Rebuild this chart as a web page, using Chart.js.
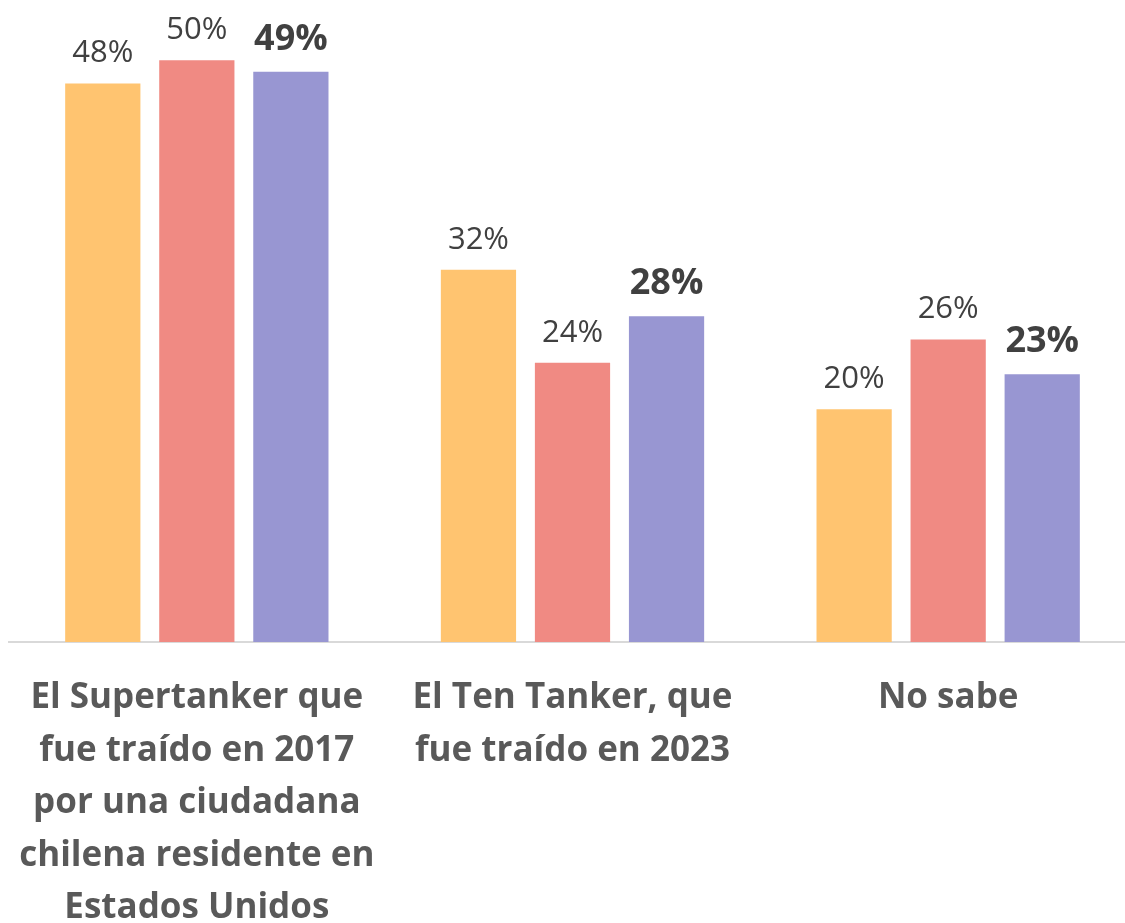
<!DOCTYPE html>
<html><head><meta charset="utf-8">
<script src="https://cdn.jsdelivr.net/npm/chart.js@4"></script>
<style>html,body{margin:0;padding:0;background:#fff;overflow:hidden;width:1125px;height:923px}#wrap{width:1136px;height:923px;position:relative}</style>
</head><body><div id="wrap"><canvas id="c" width="1136" height="923"></canvas></div>
<script>
const categories = [
  ["El Supertanker que","fue traído en 2017","por una ciudadana","chilena residente en","Estados Unidos"],
  ["El Ten Tanker, que","fue traído en 2023"],
  ["No sabe"]
];
const series1 = [48, 32, 20];
const series2 = [50, 24, 26];
const series3 = [49, 28, 23];
const seriesNames = ["Serie 1","Serie 2","Serie 3"];
const colors = ["#FFC470","#F08A83","#9896D2"];

const valueLabels = {
  id:'valueLabels',
  afterDatasetsDraw(chart){
    const ctx = chart.ctx;
    chart.data.datasets.forEach((ds,i)=>{
      const meta = chart.getDatasetMeta(i);
      meta.data.forEach((bar,j)=>{
        ctx.save();
        ctx.font = i===2 ? 'bold 36px "Open Sans"' : '31px "Open Sans"';
        ctx.fillStyle = '#404040';
        ctx.textAlign='center';
        ctx.textBaseline='alphabetic';
        ctx.fillText(ds.data[j]+'%', bar.x, bar.y - (i===2?22:21));
        ctx.restore();
      });
    });
  }
};

new Chart(document.getElementById('c'),{
  type:'bar',
  data:{labels:categories,datasets:[series1,series2,series3].map((d,i)=>({label:seriesNames[i],data:d,backgroundColor:colors[i],barPercentage:0.8,categoryPercentage:0.751}))},
  options:{
    responsive:false,animation:false,
    layout:{padding:{left:9,right:0,top:2,bottom:0}},
    plugins:{legend:{display:false},tooltip:{enabled:false}},
    scales:{
      y:{display:false,min:0,max:55},
      x:{grid:{display:false,drawTicks:false},border:{color:'#D9D9D9',width:2},
         afterFit(s){ s.height = 281; s.paddingLeft = 0; s.paddingRight = 0; },
         ticks:{color:'#595959',font:{family:'"Open Sans"',weight:'bold',size:35,lineHeight:1.5},padding:30,autoSkip:false,maxRotation:0}}
    }
  },
  plugins:[valueLabels]
});
</script></body></html>
